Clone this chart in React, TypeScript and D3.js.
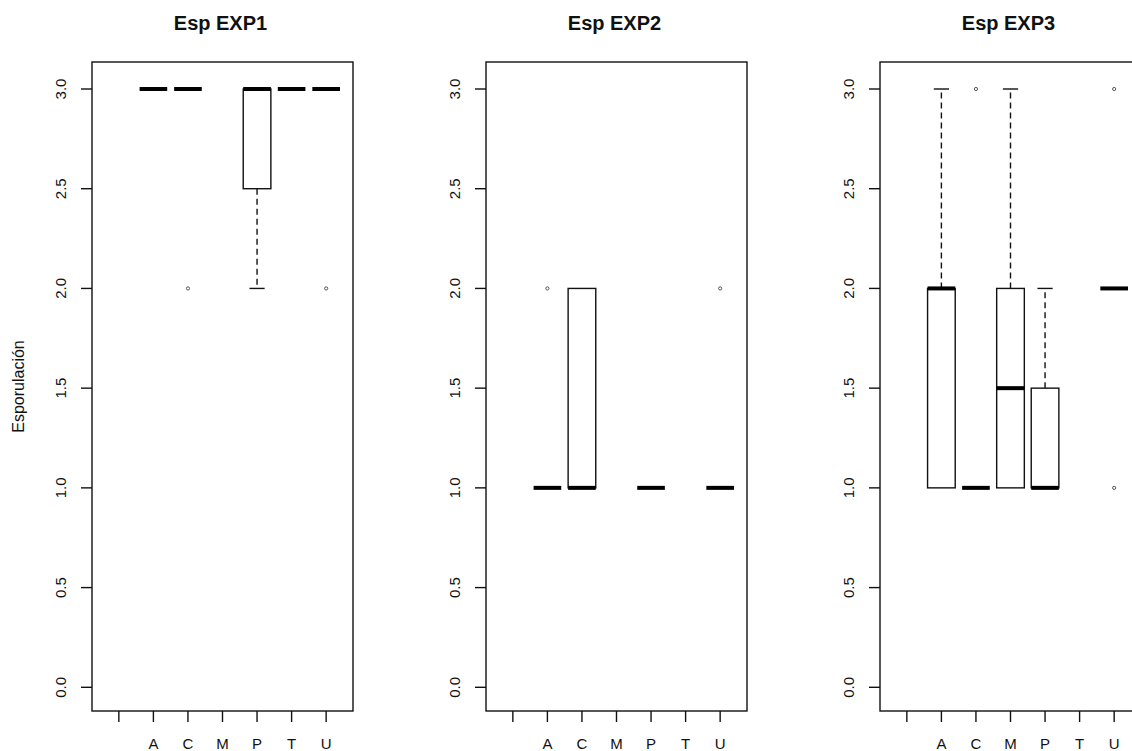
import React from "react";
import * as d3 from "d3";

const categories = ["", "A", "C", "M", "P", "T", "U"];
const yTicks = [0, 0.5, 1, 1.5, 2, 2.5, 3];
const titles = ["Esp EXP1", "Esp EXP2", "Esp EXP3"];
const yTitle = "Esporulación";

// [lower whisker, Q1, median, Q3, upper whisker] per category (null = no data)
type Stat = [number, number, number, number, number] | null;
const exp1Stats: Stat[] = [null, [3, 3, 3, 3, 3], [3, 3, 3, 3, 3], null, [2, 2.5, 3, 3, 3], [3, 3, 3, 3, 3], [3, 3, 3, 3, 3]];
const exp1Outliers: number[][] = [[], [], [2], [], [], [], [2]];
const exp2Stats: Stat[] = [null, [1, 1, 1, 1, 1], [1, 1, 1, 2, 2], null, [1, 1, 1, 1, 1], null, [1, 1, 1, 1, 1]];
const exp2Outliers: number[][] = [[], [2], [], [], [], [], [2]];
const exp3Stats: Stat[] = [null, [1, 1, 2, 2, 3], [1, 1, 1, 1, 1], [1, 1, 1.5, 2, 3], [1, 1, 1, 1.5, 2], null, [2, 2, 2, 2, 2]];
const exp3Outliers: number[][] = [[], [], [3], [], [], [], [1, 3]];

const panels = [
  { title: titles[0], stats: exp1Stats, outliers: exp1Outliers },
  { title: titles[1], stats: exp2Stats, outliers: exp2Outliers },
  { title: titles[2], stats: exp3Stats, outliers: exp3Outliers },
];

const W = 1132;
const H = 751;
const panelLeft0 = 92;
const panelStep = 394;
const panelW = 261;
const top = 62;
const bottom = 711;
const font = "'Liberation Sans', Arial, sans-serif";
const ink = "#111";

function Panel({ idx, title, stats, outliers }: { idx: number; title: string; stats: Stat[]; outliers: number[][] }) {
  const left = panelLeft0 + idx * panelStep;
  const right = left + panelW;
  const keys = categories.map((c, i) => i + ":" + c);
  const x = d3.scalePoint<string>().domain(keys).range([left, right]).padding(0.777);
  const y = d3.scaleLinear().domain([0, 3]).range([687.3, 89]);
  const step = x.step();
  const bw = step * 0.8;
  const sw = bw * 0.55;
  return (
    <g>
      <text x={(left + right) / 2 - 2} y={30} textAnchor="middle" fontFamily={font} fontWeight="bold" fontSize={20} fill={ink}>
        {title}
      </text>
      {stats.map((s, i) => {
        if (!s) return null;
        const cx = x(keys[i]) as number;
        const [lo, q1, med, q3, hi] = s;
        return (
          <g key={i}>
            {hi > q3 && (
              <>
                <line x1={cx} x2={cx} y1={y(q3)} y2={y(hi)} stroke={ink} strokeWidth={1.4} strokeDasharray="6,4" />
                <line x1={cx - sw / 2} x2={cx + sw / 2} y1={y(hi)} y2={y(hi)} stroke={ink} strokeWidth={1.4} />
              </>
            )}
            {lo < q1 && (
              <>
                <line x1={cx} x2={cx} y1={y(q1)} y2={y(lo)} stroke={ink} strokeWidth={1.4} strokeDasharray="6,4" />
                <line x1={cx - sw / 2} x2={cx + sw / 2} y1={y(lo)} y2={y(lo)} stroke={ink} strokeWidth={1.4} />
              </>
            )}
            {q3 > q1 && (
              <rect x={cx - bw / 2} y={y(q3)} width={bw} height={y(q1) - y(q3)} fill="#fff" stroke={ink} strokeWidth={1.4} />
            )}
            <line x1={cx - bw / 2} x2={cx + bw / 2} y1={y(med)} y2={y(med)} stroke="#000" strokeWidth={4} />
          </g>
        );
      })}
      {outliers.map((os, i) =>
        os.map((v, j) => (
          <circle key={i + "-" + j} cx={x(keys[i]) as number} cy={y(v)} r={1.6} fill="none" stroke="#555" strokeWidth={1} />
        ))
      )}
      <rect x={left} y={top} width={panelW} height={bottom - top} fill="none" stroke={ink} strokeWidth={1.4} />
      {yTicks.map((t) => (
        <g key={t}>
          <line x1={left - 11} x2={left} y1={y(t)} y2={y(t)} stroke={ink} strokeWidth={1.4} />
          <text
            transform={`translate(${left - 26},${y(t)}) rotate(-90)`}
            textAnchor="middle"
            fontFamily={font}
            fontSize={15}
            fill={ink}
          >
            {d3.format(".1f")(t)}
          </text>
        </g>
      ))}
      {keys.map((k, i) => (
        <g key={k}>
          <line x1={x(k) as number} x2={x(k) as number} y1={bottom} y2={bottom + 11} stroke={ink} strokeWidth={1.4} />
          <text x={x(k) as number} y={749} textAnchor="middle" fontFamily={font} fontSize={15} fill={ink}>
            {categories[i]}
          </text>
        </g>
      ))}
    </g>
  );
}

export default function App() {
  return (
    <svg width={W} height={H} style={{ position: "absolute", left: 0, top: 0, display: "block", background: "#fff" }}>
      <rect x={0} y={0} width={W} height={H} fill="#fff" />
      {panels.map((p, i) => (
        <Panel key={i} idx={i} title={p.title} stats={p.stats} outliers={p.outliers} />
      ))}
      <text
        transform={`translate(24,${(top + bottom) / 2}) rotate(-90)`}
        textAnchor="middle"
        fontFamily={font}
        fontSize={16}
        fill={ink}
      >
        {yTitle}
      </text>
    </svg>
  );
}
